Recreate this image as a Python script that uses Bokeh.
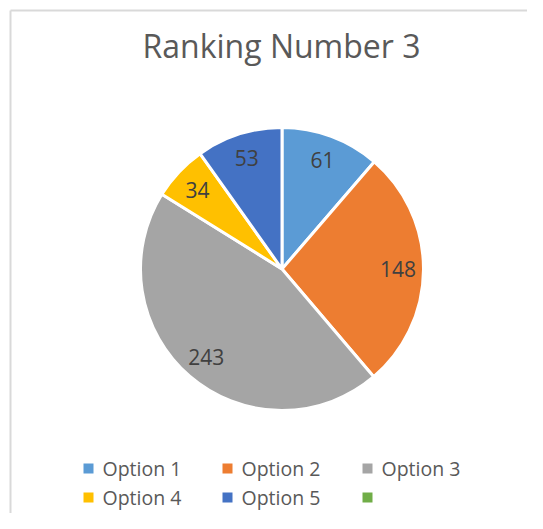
import numpy as np
from bokeh.plotting import figure
from bokeh.models import Range1d, ColumnDataSource
from bokeh.core.properties import value
from bokeh.embed import file_html
from bokeh.resources import INLINE

# ---- data ----
title_text = "Ranking Number 3"
categories = ["Option 1", "Option 2", "Option 3", "Option 4", "Option 5"]
values = [61, 148, 243, 34, 53]
legend_labels = ["Option 1", "Option 2", "Option 3", "Option 4", "Option 5", ""]
colors = ["#5B9BD5", "#ED7D31", "#A5A5A5", "#FFC000", "#4472C4", "#70AD47"]

# ---- layout (screen pixels) ----
W, H = 527, 513
OX, OY = 0, 0
FONT = "Open Sans"

p = figure(width=W, height=H, output_backend="svg", toolbar_location=None,
           x_range=Range1d(OX, OX + W), y_range=Range1d(-(OY + H), -OY),
           x_axis_type=None, y_axis_type=None, min_border=0)
p.grid.visible = False
p.outline_line_color = None
p.background_fill_color = "white"
p.border_fill_color = "white"

# chart area border (top and left visible)
p.line([10, 560], [-10, -10], line_color="#D9D9D9", line_width=2)
p.line([10, 10], [-10, -560], line_color="#D9D9D9", line_width=2)

# title
p.text(x=[281], y=[-45], text=[title_text], text_align="center",
       text_baseline="middle", text_font=value(FONT),
       text_font_size="32px", text_color="#595959")

# pie
cx, cy, R = 281.5, -268.5, 141.5
vals = np.array(values, dtype=float)
total = vals.sum()
cum = np.concatenate([[0], np.cumsum(vals)])
start = np.pi / 2 - 2 * np.pi * cum[1:] / total
end = np.pi / 2 - 2 * np.pi * cum[:-1] / total
mid = (start + end) / 2
src = ColumnDataSource(dict(start=start, end=end, color=colors[:len(values)],
                            lx=cx + 0.82 * R * np.cos(mid),
                            ly=cy + 0.82 * R * np.sin(mid),
                            lab=[str(v) for v in values]))
p.wedge(x=cx, y=cy, radius=R, start_angle="start", end_angle="end",
        fill_color="color", line_color="white", line_width=3, source=src)
p.text(x="lx", y="ly", text="lab", source=src, text_align="center",
       text_baseline="middle", text_font=value(FONT), text_font_size="21px",
       text_color="#404040")

# legend (3 columns)
col_x = [88, 227, 367]
row_y = [-468, -497]
lx, ly, tx = [], [], []
for i, lab in enumerate(legend_labels):
    r, c = divmod(i, 3)
    lx.append(col_x[c]); ly.append(row_y[r]); tx.append(col_x[c] + 14)
lsrc = ColumnDataSource(dict(x=lx, y=ly, tx=tx, lab=legend_labels, color=colors))
p.rect(x="x", y="y", width=10, height=10, fill_color="color", line_color=None,
       source=lsrc)
p.text(x="tx", y="y", text="lab", source=lsrc, text_align="left",
       text_baseline="middle", text_font=value(FONT), text_font_size="19.5px",
       text_color="#595959")

open("out.html", "w").write(file_html(p, INLINE))
